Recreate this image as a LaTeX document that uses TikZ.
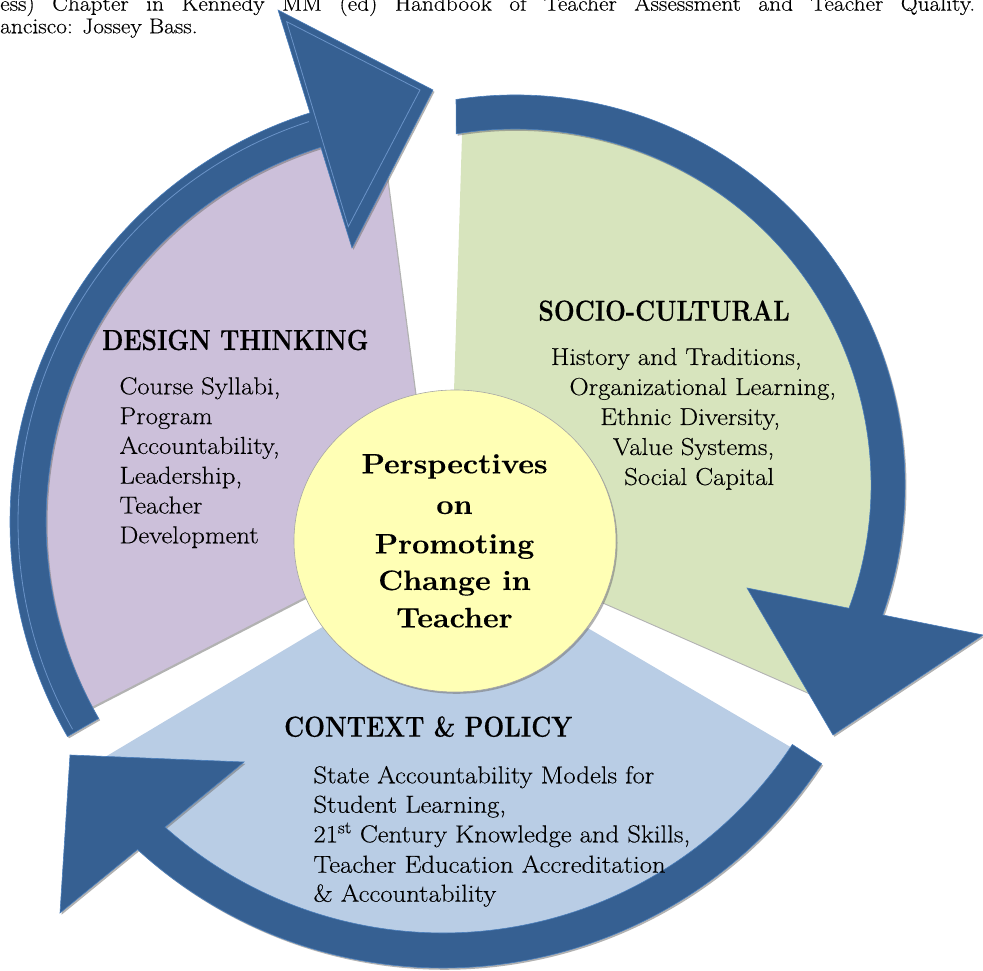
\documentclass[tikz,border=0pt]{standalone}
\usepackage{fontspec}
\setmainfont{Latin Modern Roman}[FakeStretch=1.09,FakeBold=0.3]
\newfontfamily\headfont[FakeStretch=0.85,FakeBold=0.3]{Latin Modern Roman}
\usetikzlibrary{shadows,calc}
\definecolor{ringblue}{HTML}{366092}
\definecolor{ringedge}{HTML}{4A7EBB}
\definecolor{ringlight}{HTML}{6A93C8}
\definecolor{purplefill}{HTML}{CCC0DA}
\definecolor{greenfill}{HTML}{D7E4BD}
\definecolor{bluefill}{HTML}{B9CDE5}
\definecolor{yellowfill}{HTML}{FFFFB5}
\begin{document}
\begin{tikzpicture}[x=1pt,y=1pt,
  shd/.style={drop shadow={shadow xshift=1.5pt,shadow yshift=-1.8pt,opacity=0.55,fill=black!55}},
  ring/.style={fill=ringblue,draw=ringedge,line width=0.6pt,shd},
  bodytxt/.style={inner sep=0pt,anchor=base west,font=\fontsize{24.5}{29.8}\selectfont},
  headtxt/.style={inner sep=0pt,anchor=base west,font=\headfont\bfseries\fontsize{29}{34}\selectfont},
  hubtxt/.style={inner sep=0pt,anchor=base,font=\bfseries\fontsize{28}{38.5}\selectfont},
  hdrtxt/.style={inner sep=0pt,anchor=base west,font=\fontsize{21.5}{23}\selectfont}]
\useasboundingbox (0,0) rectangle (983,971);
\clip (0,0) rectangle (983,971);

% centres
\coordinate (Cp) at (439,449);
\coordinate (Cg) at (515,486);
\coordinate (Cb) at (443,456);
\coordinate (Ap) at (433,440);
\coordinate (Ag) at (449.5,436);
\coordinate (Ab) at (453,422);

% sectors
\fill[purplefill,shd] (Ap) -- ([shift={(98.4:410)}]Cp) arc[start angle=98.4,end angle=208,radius=410] -- cycle;
\fill[greenfill,shd] (Ag) -- ([shift={(98.1:372)}]Cg) arc[start angle=98.1,end angle=-34.9,radius=372] -- cycle;
\fill[bluefill,shd] (Ab) -- ([shift={(215.4:435)}]Cb) arc[start angle=215.4,end angle=326.4,radius=435] -- cycle;

% circular arrows
\path[ring] ([shift={(210:429)}]Cp) arc[start angle=210,end angle=107.5,radius=429]
  -- (278,961) -- (433,881) -- (352,723)
  -- ([shift={(107.5:393)}]Cp) arc[start angle=107.5,end angle=210,radius=393] -- cycle;
\draw[ringlight,line width=0.8pt] ([shift={(209.5:421)}]Cp) arc[start angle=209.5,end angle=108,radius=421];
\draw[ringlight,line width=0.8pt] (286.7,949.3) -- (420,881) -- (348.3,744.3) -- cycle;

\path[ring] ([shift={(98.7:390)}]Cg) arc[start angle=98.7,end angle=-19.47,radius=390]
  -- (983,336) -- (833,236) -- (747,383)
  -- ([shift={(-20.26:356)}]Cg) arc[start angle=-20.26,end angle=99.5,radius=356] -- cycle;

\path[ring] ([shift={(-33.3:453)}]Cb) arc[start angle=-33.3,end angle=-132.4,radius=453]
  -- (60,58) -- (70,216) -- (244,209)
  -- ([shift={(-131.7:418)}]Cb) arc[start angle=-131.7,end angle=-33.3,radius=418] -- cycle;

% hub
\path[fill=yellowfill,draw=black!35,line width=0.6pt,shd] (455,430) ellipse[x radius=161,y radius=151];

% header text (cut by the top edge, as in the source page)
\node[hdrtxt] (ref1) at (0,960.3) {\makebox[975pt][s]{ess) Chapter in Kennedy MM (ed) Handbook of Teacher Assessment and Teacher Quality.}};
\node[hdrtxt] (ref2) at (0,937.7) {ancisco: Jossey Bass.};

% design thinking
\node[headtxt] (dt) at (102,621) {DESIGN THINKING};
\node[bodytxt] (dt1) at (119.3,576.7) {Course Syllabi,};
\node[bodytxt] (dt2) at (119.3,546.9) {Program};
\node[bodytxt] (dt3) at (119.3,517.1) {Accountability,};
\node[bodytxt] (dt4) at (119.3,487.3) {Leadership,};
\node[bodytxt] (dt5) at (119.3,457.5) {Teacher};
\node[bodytxt] (dt6) at (119.3,427.7) {Development};

% socio-cultural
\node[headtxt] (sc) at (538.3,650.3) {SOCIO-CULTURAL};
\node[bodytxt] (sc1) at (550.7,606) {History and Traditions,};
\node[bodytxt] (sc2) at (569.3,576) {Organizational Learning,};
\node[bodytxt] (sc3) at (600,546) {Ethnic Diversity,};
\node[bodytxt] (sc4) at (612.7,516) {Value Systems,};
\node[bodytxt] (sc5) at (624,486) {Social Capital};

% context & policy
\node[headtxt] (cp) at (284,234.3) {CONTEXT \& POLICY};
\node[bodytxt] (cp1) at (313.3,187.7) {State Accountability Models for};
\node[bodytxt] (cp2) at (313.3,158.3) {Student Learning,};
\node[bodytxt] (cp3) at (313.3,128.7) {21\textsuperscript{st} Century Knowledge and Skills,};
\node[bodytxt] (cp4) at (313.3,98.3) {Teacher Education Accreditation};
\node[bodytxt] (cp5) at (313.3,69.3) {\& Accountability};

% hub text
\node[hubtxt] (h1) at (454.5,497.7) {Perspectives};
\node[hubtxt] (h2) at (454.5,457) {on};
\node[hubtxt] (h3) at (454.5,417.7) {Promoting};
\node[hubtxt] (h4) at (454.5,381) {Change in};
\node[hubtxt] (h5) at (454.5,343.7) {Teacher};
\end{tikzpicture}
\end{document}
